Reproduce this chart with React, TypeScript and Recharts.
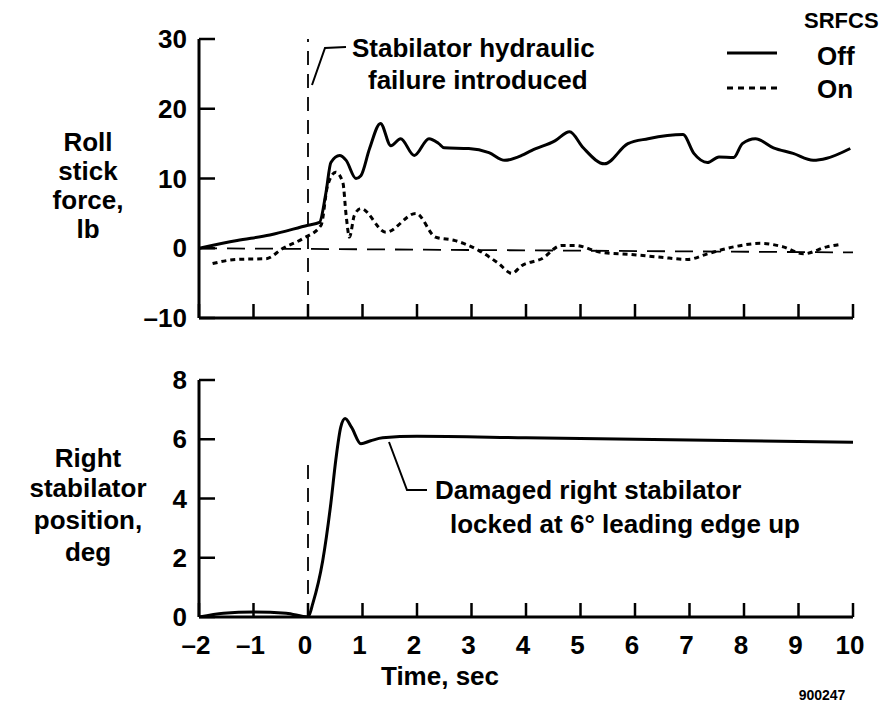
import { Line, LineChart, ReferenceLine, XAxis, YAxis } from 'recharts';

const timeTicks = [-2, -1, 0, 1, 2, 3, 4, 5, 6, 7, 8, 9, 10];
const forceTicks = [-10, 0, 10, 20, 30];
const positionTicks = [0, 2, 4, 6, 8];

// SRFCS off, roll stick force (lb)
const offTime = [
  -2, -1.3, -0.7, 0, 0.21, 0.33, 0.42, 0.58, 0.7, 0.88, 0.97, 1.13, 1.33, 1.52, 1.7, 1.95, 2.22, 2.4, 2.5,
  2.95, 3.32, 3.61, 3.92, 4.1, 4.53, 4.8, 5.05, 5.44, 5.87, 6.24, 6.88, 7.08, 7.33, 7.54, 7.81, 7.97, 8.21,
  8.54, 8.9, 9.27, 9.52, 9.95,
];
const offForce = [
  0, 1.1, 1.9, 3.3, 3.7, 8, 12.3, 13.3, 12.6, 10, 10.4, 14.3, 17.9, 14.7, 15.7, 13.3, 15.7, 15, 14.4,
  14.3, 13.7, 12.6, 13.3, 14, 15.4, 16.7, 14.4, 12.1, 15, 15.7, 16.3, 13.6, 12.3, 13.1, 13, 15, 15.7,
  14.4, 13.6, 12.6, 12.9, 14.3,
];

// SRFCS on, roll stick force (lb)
const onTime = [
  -1.75, -1.31, -0.77, -0.46, -0.09, 0.24, 0.36, 0.51, 0.64, 0.7, 0.76, 0.85, 0.97, 1.43, 1.98, 2.34, 2.7,
  3.13, 3.5, 3.74, 3.92, 4.29, 4.65, 4.9, 5.38, 5.93, 6.48, 6.97, 7.33, 7.81, 8.3, 8.72, 9.09, 9.52, 9.8,
];
const onForce = [
  -2.2, -1.6, -1.5, 0, 1.4, 3.3, 9, 10.9, 9.4, 4.7, 1.6, 4.7, 5.7, 2.3, 5, 1.6, 1.1,
  -0.3, -2.2, -3.6, -2.5, -1.5, 0.4, 0.4, -0.6, -0.9, -1.3, -1.6, -0.8, 0.2, 0.7, 0.2, -0.8, 0.2, 0.6,
];

// right stabilator position (deg)
const stabTime = [-2, -1.55, -1, -0.4, 0, 0.09, 0.27, 0.42, 0.51, 0.6, 0.68, 0.8, 0.97, 1.15, 1.37, 2, 4, 6, 8, 10];
const stabPosition = [0, 0.13, 0.17, 0.13, 0, 0.47, 1.9, 3.85, 5.3, 6.4, 6.7, 6.4, 5.85, 5.95, 6.05, 6.1, 6.05, 6.0, 5.95, 5.9];

const offData = offTime.map((t, i) => ({ t, v: offForce[i] }));
const onData = onTime.map((t, i) => ({ t, v: onForce[i] }));
const stabData = stabTime.map((t, i) => ({ t, v: stabPosition[i] }));

const FONT = '"Liberation Sans", Arial, sans-serif';
const txt = { fontFamily: FONT, fontWeight: 700, fontSize: 26, fill: '#000' } as const;

const fmt = (v: number) => (v < 0 ? '\u2013' + Math.abs(v) : String(v));

// ticks point into the plot, like the original
const BottomTick = (props: any) => {
  const { x, y, payload, showLabel } = props;
  return (
    <g>
      <line x1={x} x2={x} y1={y} y2={y - 14} stroke='#000' strokeWidth={2.5} />
      {showLabel && (
        <text x={x - 3} y={y + 37} textAnchor='middle' style={txt}>
          {fmt(payload.value)}
        </text>
      )}
    </g>
  );
};

const LeftTick = (props: any) => {
  const { x, y, payload } = props;
  return (
    <g>
      <line x1={x} x2={x + 16} y1={y} y2={y} stroke='#000' strokeWidth={2.5} />
      <text x={x - 12} y={y + 9} textAnchor='end' style={txt}>
        {fmt(payload.value)}
      </text>
    </g>
  );
};

const axisLine = { stroke: '#000', strokeWidth: 3 };

export default function App() {
  return (
    <div style={{ position: 'absolute', left: 0, top: 0, width: 883, height: 702, background: '#fff' }}>
      <div style={{ position: 'absolute', left: 0, top: 0 }}>
        <LineChart width={883} height={340} margin={{ top: 39, right: 30, left: 0, bottom: 0 }}>
          <XAxis
            dataKey='t'
            type='number'
            domain={[-2, 10]}
            ticks={timeTicks}
            interval={0}
            height={22}
            tickSize={0}
            tickMargin={0}
            axisLine={axisLine}
            tickLine={false}
            tick={(p: any) => <BottomTick {...p} showLabel={false} />}
            allowDataOverflow
          />
          <YAxis
            type='number'
            domain={[-10, 30]}
            ticks={forceTicks}
            interval={0}
            width={199}
            tickSize={0}
            tickMargin={0}
            axisLine={axisLine}
            tickLine={false}
            tick={(p: any) => <LeftTick {...p} />}
            allowDataOverflow
          />
          <ReferenceLine
            segment={[
              { x: -2, y: 0 },
              { x: 10, y: -0.6 },
            ]}
            stroke='#000'
            strokeWidth={1.8}
            strokeDasharray='18 10'
          />
          <ReferenceLine x={0} stroke='#000' strokeWidth={1.8} strokeDasharray='14 9' />
          <Line
            data={offData}
            dataKey='v'
            type='monotone'
            stroke='#000'
            strokeWidth={3}
            dot={false}
            isAnimationActive={false}
          />
          <Line
            data={onData}
            dataKey='v'
            type='monotone'
            stroke='#000'
            strokeWidth={3}
            strokeDasharray='5 4'
            dot={false}
            isAnimationActive={false}
          />
        </LineChart>
      </div>

      <div style={{ position: 'absolute', left: 0, top: 340 }}>
        <LineChart width={883} height={362} margin={{ top: 40, right: 30, left: 0, bottom: 0 }}>
          <XAxis
            dataKey='t'
            type='number'
            domain={[-2, 10]}
            ticks={timeTicks}
            interval={0}
            height={85}
            tickSize={0}
            tickMargin={0}
            axisLine={axisLine}
            tickLine={false}
            tick={(p: any) => <BottomTick {...p} showLabel />}
            allowDataOverflow
          />
          <YAxis
            type='number'
            domain={[0, 8]}
            ticks={positionTicks}
            interval={0}
            width={199}
            tickSize={0}
            tickMargin={0}
            axisLine={axisLine}
            tickLine={false}
            tick={(p: any) => <LeftTick {...p} />}
            allowDataOverflow
          />
          <ReferenceLine
            segment={[
              { x: 0, y: 0 },
              { x: 0, y: 5.3 },
            ]}
            stroke='#000'
            strokeWidth={1.8}
            strokeDasharray='14 9'
          />
          <Line
            data={stabData}
            dataKey='v'
            type='monotone'
            stroke='#000'
            strokeWidth={3}
            dot={false}
            isAnimationActive={false}
          />
        </LineChart>
      </div>

      {/* titles, legend and callouts */}
      <svg width={883} height={702} style={{ position: 'absolute', left: 0, top: 0, pointerEvents: 'none' }}>
        <g style={txt}>
          <text x={88} y={151} textAnchor='middle'>Roll</text>
          <text x={88} y={180} textAnchor='middle'>stick</text>
          <text x={88} y={209} textAnchor='middle'>force,</text>
          <text x={88} y={238} textAnchor='middle'>lb</text>

          <text x={88} y={467} textAnchor='middle'>Right</text>
          <text x={88} y={497} textAnchor='middle'>stabilator</text>
          <text x={88} y={529} textAnchor='middle'>position,</text>
          <text x={88} y={561} textAnchor='middle'>deg</text>

          <text x={440} y={685} textAnchor='middle'>Time, sec</text>

          <text x={352} y={57}>Stabilator hydraulic</text>
          <text x={368} y={89}>failure introduced</text>

          <text x={435} y={499}>Damaged right stabilator</text>
          <text x={450} y={533}>locked at 6° leading edge up</text>

          <text x={804} y={28} style={{ ...txt, fontSize: 22 }}>
            SRFCS
          </text>
          <text x={817} y={65}>Off</text>
          <text x={817} y={98}>On</text>
        </g>
        <text x={822} y={700} textAnchor='middle' style={{ ...txt, fontSize: 14 }}>
          900247
        </text>

        <line x1={727} x2={777} y1={53} y2={53} stroke='#000' strokeWidth={3} />
        <line x1={727} x2={777} y1={88} y2={88} stroke='#000' strokeWidth={3} strokeDasharray='6 5' />

        <polyline points='312,85 325,48 346,47' fill='none' stroke='#000' strokeWidth={2} />
        <polyline points='389,442 407,490 427,490' fill='none' stroke='#000' strokeWidth={2} />
      </svg>
    </div>
  );
}
